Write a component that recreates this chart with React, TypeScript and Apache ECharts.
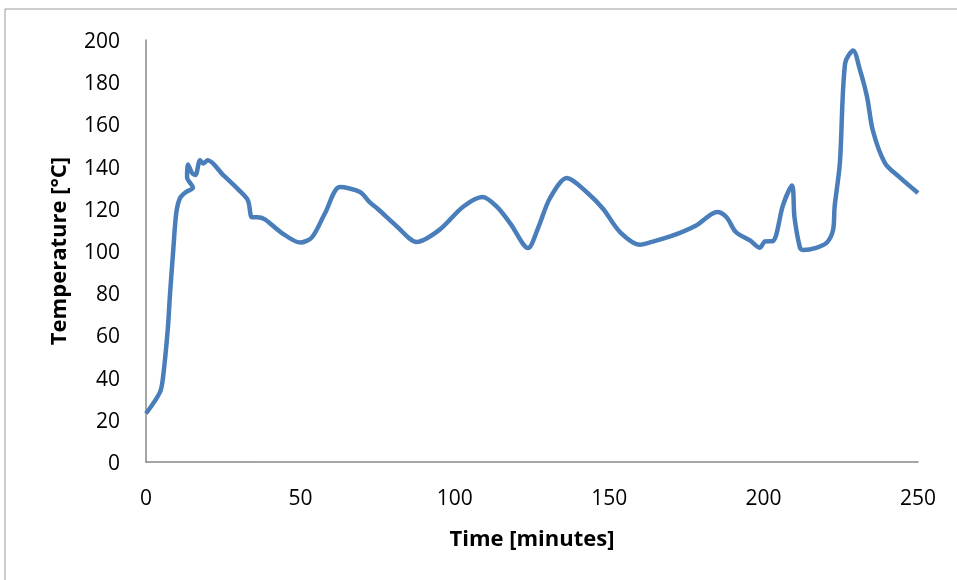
import React, { useEffect, useRef } from "react";
import * as echarts from "echarts";

const timeMin = [0, 4.5, 5.5, 7, 7.8, 8.8, 9.8, 11, 13, 15.2, 13.3, 13.6, 14.9, 16, 17.5, 18.5, 20, 25, 30, 33, 34.3, 36, 38.5, 44, 50, 53.8, 58, 62.8, 69.3, 72.5, 75, 81, 87.7, 95, 102.7, 109, 113.6, 118, 123.7, 127, 130.8, 136.3, 143, 148, 153.5, 160, 163, 170, 178, 185, 188, 191, 195.6, 198.8, 200.4, 203, 206.3, 209.2, 210, 211.8, 212.8, 217, 220.5, 222.5, 223, 224.7, 226.4, 229, 231.2, 233.5, 235.4, 239.3, 244, 250];
const tempC = [23, 33, 40, 62, 80, 100, 118, 125, 128, 130, 135, 141, 137, 136, 143, 141.5, 143, 136, 129, 124, 116, 116, 115, 108.5, 104, 106.6, 118, 130.3, 128, 123, 120, 112, 104.3, 110, 121, 125.6, 121, 113, 101.4, 111, 125, 134.6, 127.5, 120, 109, 103, 104, 107, 112, 118.5, 116, 109, 105, 101.5, 104.5, 104.7, 121.8, 131, 116, 101.5, 100.5, 101.5, 104, 110, 121, 141.7, 189, 195, 185.8, 173, 157, 141.7, 135, 127.5];

const xTicks = [0, 50, 100, 150, 200, 250];
const yTicks = [0, 20, 40, 60, 80, 100, 120, 140, 160, 180, 200];

export default function App() {
  const ref = useRef<HTMLDivElement>(null);
  useEffect(() => {
    if (!ref.current) return;
    const chart = echarts.init(ref.current, null, { renderer: "svg" });
    const font = "'Open Sans', 'Noto Sans', sans-serif";
    chart.setOption({
      animation: false,
      graphic: [
        {
          type: "rect",
          shape: { x: 5, y: 9, width: 1000, height: 700 },
          style: { fill: "none", stroke: "#9a9a9a", lineWidth: 1 },
          silent: true,
        },
      ],
      grid: { left: 146, right: 39, top: 40, bottom: 118 },
      xAxis: {
        type: "value",
        min: xTicks[0],
        max: xTicks[xTicks.length - 1],
        interval: 50,
        name: "Time [minutes]",
        nameLocation: "middle",
        nameGap: 64,
        nameTextStyle: { fontFamily: font, fontSize: 22, fontWeight: "bold", color: "#000" },
        axisLine: { lineStyle: { color: "#888", width: 1.5 } },
        axisTick: { show: false },
        splitLine: { show: false },
        axisLabel: { fontFamily: font, fontSize: 21, color: "#000", margin: 24 },
      },
      yAxis: {
        type: "value",
        min: yTicks[0],
        max: yTicks[yTicks.length - 1],
        interval: 20,
        name: "Temperature [°C]",
        nameLocation: "middle",
        nameGap: 78,
        nameTextStyle: { fontFamily: font, fontSize: 22, fontWeight: "bold", color: "#000" },
        axisLine: { show: true, lineStyle: { color: "#888", width: 1.5 } },
        axisTick: { show: false },
        splitLine: { show: false },
        axisLabel: { fontFamily: font, fontSize: 21, color: "#000", margin: 26 },
      },
      series: [
        {
          type: "line",
          data: timeMin.map((t, i) => [t, tempC[i]]),
          smooth: 0.3,
          showSymbol: false,
          lineStyle: { color: "#4a7ebb", width: 4.5 },
        },
      ],
    });
    return () => chart.dispose();
  }, []);
  return <div ref={ref} style={{ position: "fixed", left: 0, top: 0, width: 957, height: 580 }} />;
}
